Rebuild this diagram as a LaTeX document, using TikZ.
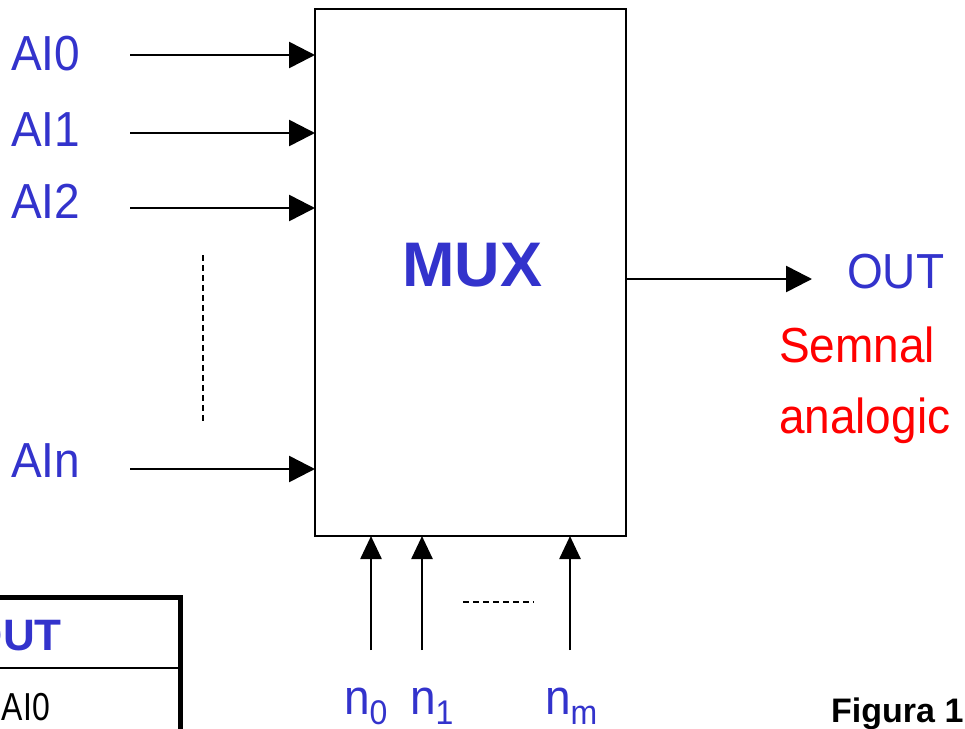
\documentclass[tikz,border=0pt]{standalone}
\usepackage{fontspec}
\setmainfont{Liberation Sans}
\usetikzlibrary{arrows.meta}
\definecolor{muxblue}{HTML}{3333CC}
\definecolor{muxred}{HTML}{FF0000}
\newcommand\vstr[1]{\scalebox{1}[1.07]{#1}}
\newcommand\subs[1]{\raisebox{-10pt}{\fontsize{32pt}{32pt}\selectfont\vstr{#1}}}
\begin{document}
\begin{tikzpicture}[x=1pt,y=-1pt,
  lbl/.style={inner sep=0pt, outer sep=0pt, font=\fontsize{46pt}{50pt}\selectfont},
  bluelbl/.style={lbl, text=muxblue},
  redlbl/.style={lbl, text=muxred},
  inarrow/.style={line width=2.6pt, -{Triangle[length=26pt,width=26pt]}},
  uparrow/.style={line width=2.6pt, -{Triangle[length=23pt,width=21pt]}},
  dots/.style={line width=1.8pt, dash pattern=on 6pt off 4pt},
  muxbox/.style={draw, line width=2pt, minimum width=311pt, minimum height=527pt, inner sep=0pt, outer sep=0pt}]
\useasboundingbox (0,0) rectangle (965,728);

% MUX block
\node[muxbox] (mux) at (470.5,272.5) {};
\node[inner sep=0pt, anchor=base, text=muxblue, font=\fontsize{63pt}{66pt}\selectfont\bfseries] (muxlbl) at (472.5,286) {MUX};

% inputs
\node[bluelbl, anchor=base west] (ai0) at (11,70) {\vstr{AI0}};
\node[bluelbl, anchor=base west] (ai1) at (11,146) {\vstr{AI1}};
\node[bluelbl, anchor=base west] (ai2) at (11,218) {\vstr{AI2}};
\node[bluelbl, anchor=base west] (ain) at (11,477) {\vstr{AIn}};
\coordinate (s0) at (130,55);
\coordinate (s1) at (130,133);
\coordinate (s2) at (130,208);
\coordinate (sn) at (130,469);
\draw[inarrow] (s0) -- (s0 -| mux.west);
\draw[inarrow] (s1) -- (s1 -| mux.west);
\draw[inarrow] (s2) -- (s2 -| mux.west);
\draw[inarrow] (sn) -- (sn -| mux.west);
\coordinate (vd1) at (203,255);
\coordinate (vd2) at (203,424);
\draw[dots] (vd1) -- (vd2);

% output
\coordinate (oe) at (812,279);
\draw[inarrow] (mux.east |- oe) -- (oe);
\node[bluelbl, anchor=base west] (out) at (847,288) {\vstr{OUT}};
\node[redlbl, anchor=base west] (sem) at (779,362) {\vstr{Semnal}};
\node[redlbl, anchor=base west] (ana) at (779,433) {\vstr{analogic}};

% select lines
\coordinate (b0) at (371,650);
\coordinate (b1) at (422,650);
\coordinate (bm) at (570,650);
\draw[uparrow] (b0) -- (b0 |- mux.south);
\draw[uparrow] (b1) -- (b1 |- mux.south);
\draw[uparrow] (bm) -- (bm |- mux.south);
\coordinate (hd1) at (463,602);
\coordinate (hd2) at (534,602);
\draw[line width=1.5pt, dash pattern=on 6pt off 4pt] (hd1) -- (hd2);
\node[bluelbl, anchor=base west] (n0) at (344,714) {\vstr{n}\subs{0}};
\node[bluelbl, anchor=base west] (n1) at (410,714) {\vstr{n}\subs{1}};
\node[bluelbl, anchor=base west] (nm) at (545,714) {\vstr{n}\subs{m}};

% caption
\node[inner sep=0pt, anchor=base west, font=\fontsize{34pt}{36pt}\selectfont\bfseries] (fig) at (831,722) {Figura 1};

% partial table
\coordinate (t1) at (-5,597);
\coordinate (t2) at (182.5,597);
\coordinate (t3) at (180,740);
\coordinate (d1) at (-5,668);
\coordinate (d2) at (180,668);
\draw[line width=5pt] (t1) -- (t2);
\draw[line width=5pt] (t2 -| t3) -- (t3);
\draw[line width=2pt] (d1) -- (d2);
\node[inner sep=0pt, anchor=base east, text=muxblue, font=\fontsize{44pt}{48pt}\selectfont\bfseries] (tout) at (62,650) {OUT};
\node[inner sep=0pt, anchor=base east, font=\fontsize{39pt}{42pt}\selectfont] (tai) at (50,720) {\scalebox{0.82}[1]{AI0}};
\end{tikzpicture}
\end{document}
